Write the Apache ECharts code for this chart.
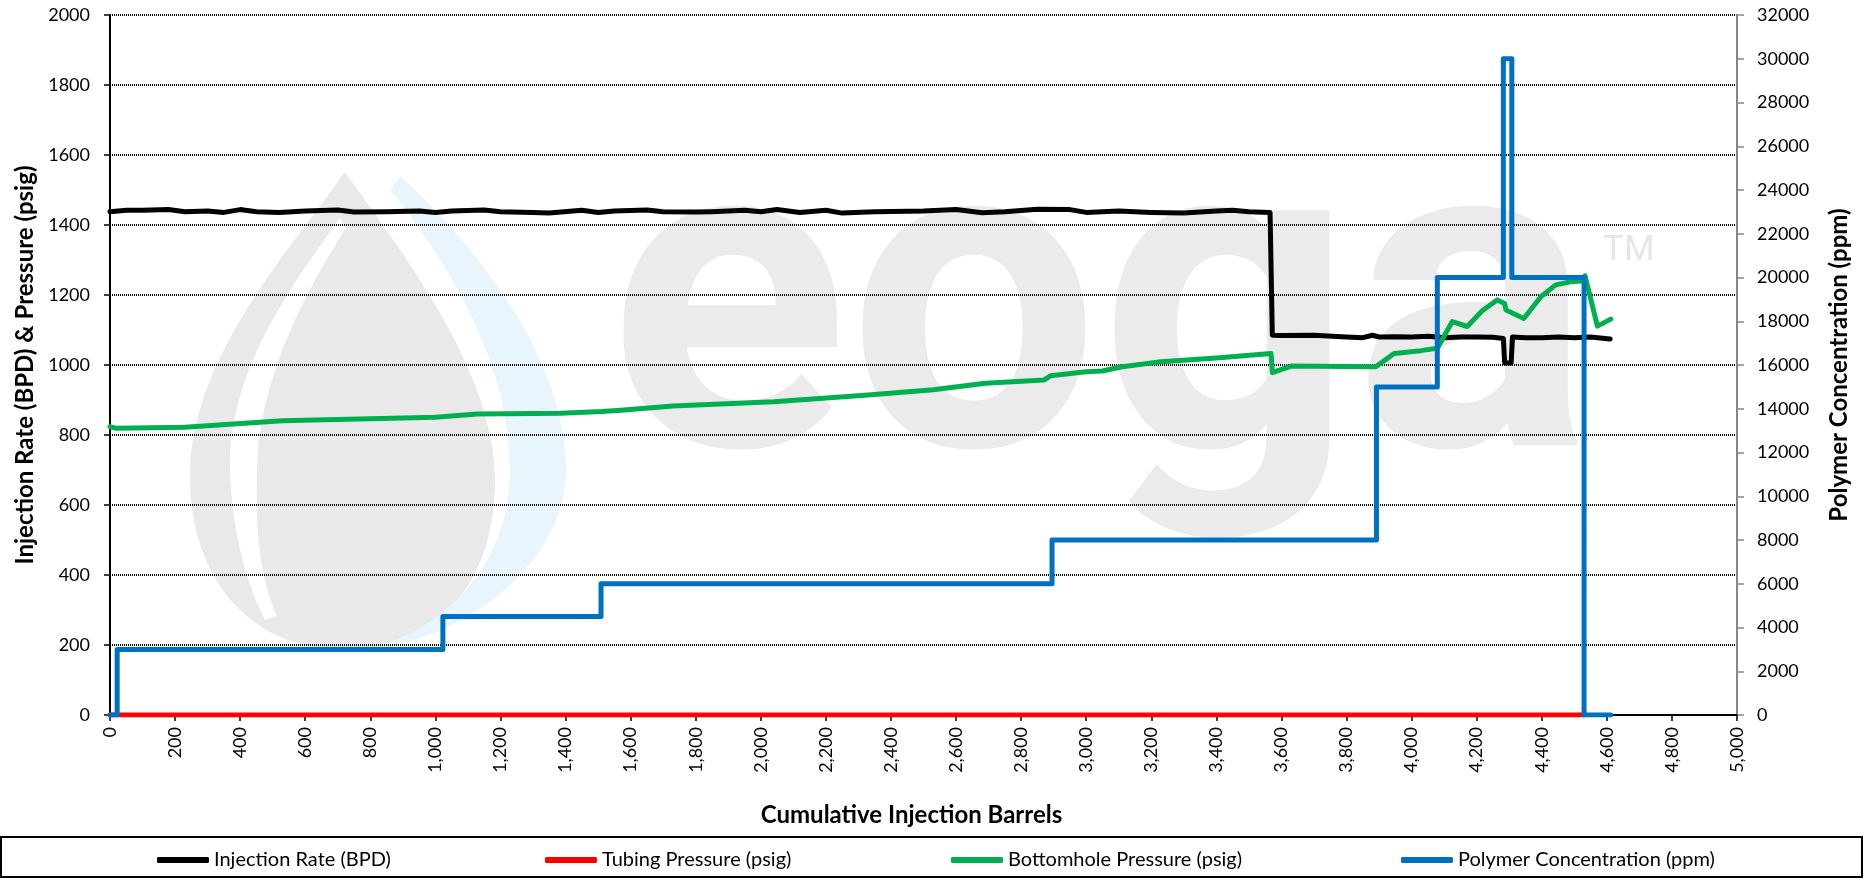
<!DOCTYPE html>
<html>
<head>
<meta charset="utf-8">
<script src="https://cdn.jsdelivr.net/npm/echarts@6/dist/echarts.min.js"></script>
<style>
  html, body { margin: 0; padding: 0; background: #fff; }
  #chart { width: 1865px; height: 884px; }
</style>
</head>
<body>
<div id="chart"></div>
<script>
// injection rate (BPD) vs cumulative barrels
const rateX = [0,50,100,180,230,300,350,400,450,520,600,700,750,850,950,1000,1050,1150,1200,1300,1350,1450,1500,1550,1650,1700,1800,1850,1950,2000,2050,2120,2200,2250,2350,2500,2600,2680,2750,2850,2950,3000,3100,3200,3300,3400,3450,3500,3565,3572,3600,3700,3800,3850,3880,3900,3950,4000,4050,4100,4150,4200,4250,4282,4286,4306,4310,4350,4400,4450,4500,4550,4610];
const rateBpd = [1438,1442,1442,1444,1438,1440,1436,1444,1438,1436,1440,1443,1437,1438,1440,1436,1440,1443,1438,1436,1434,1442,1436,1440,1443,1438,1437,1438,1442,1438,1444,1436,1442,1434,1438,1440,1444,1435,1438,1445,1444,1436,1440,1436,1434,1440,1442,1438,1436,1085,1084,1085,1080,1078,1085,1080,1081,1080,1082,1078,1080,1080,1079,1076,1006,1006,1080,1078,1078,1080,1078,1080,1074];

// tubing pressure (psig)
const tubingX = [0, 4530];
const tubingPsig = [0, 0];

// bottomhole pressure (psig)
const bhpX = [0,20,230,530,1000,1130,1385,1510,1570,1730,2040,2330,2530,2690,2870,2890,3000,3050,3110,3230,3400,3568,3572,3630,3890,3946,4028,4079,4125,4171,4217,4263,4286,4290,4345,4397,4443,4489,4530,4533,4571,4612];
const bhpPsig = [824,819,822,841,851,860,862,867,871,883,895,914,929,948,957,969,981,983,995,1009,1020,1033,978,997,995,1033,1041,1048,1124,1110,1155,1186,1176,1157,1133,1195,1229,1238,1241,1255,1111,1131];

// polymer concentration (ppm), value starting at each x
const polyX = [0,22,1023,1509,2895,3892,4079,4282,4308,4530,4612];
const polyPpm = [0,3000,4500,6000,8000,15000,20000,30000,20000,0,0];

const seriesNames = ['Injection Rate (BPD)', 'Tubing Pressure (psig)', 'Bottomhole Pressure (psig)', 'Polymer Concentration (ppm)'];
const seriesColors = ['#000000', '#ff0000', '#00b050', '#0070c0'];

const zip = (xs, ys) => xs.map((x, i) => [x, ys[i]]);
const FONT = 'Lato';

// watermark drop shapes
echarts.graphic.registerShape('wmOuter', echarts.graphic.extendPath(
  'M345 172 C290 250 188 360 190 480 C192 590 260 650 345 650 C430 650 495 590 495 480 C495 370 400 250 345 172 Z'));
echarts.graphic.registerShape('wmGap', echarts.graphic.extendPath(
  'M340 218 C280 300 228 380 230 470 C232 540 250 590 265 620 L277 616 C262 582 255 540 257 470 C258 385 300 300 346 228 Z'));
echarts.graphic.registerShape('wmBlue', echarts.graphic.extendPath(
  'M400 176 C480 250 566 360 566 470 C566 560 470 640 360 652 C450 630 510 560 510 470 C510 370 455 270 390 190 Z'));

const chart = echarts.init(document.getElementById('chart'));

function legendAt(i, left) {
  return {
    data: [seriesNames[i]],
    left: left,
    top: 845,
    itemWidth: 52,
    itemHeight: 6,
    icon: 'roundRect',
    selectedMode: false,
    textStyle: { fontFamily: FONT, fontSize: 20, color: '#000' }
  };
}

function lineSeries(i, data, extra) {
  return Object.assign({
    name: seriesNames[i],
    type: 'line',
    data: data,
    showSymbol: false,
    symbol: 'none',
    color: seriesColors[i],
    lineStyle: { color: seriesColors[i], width: 5, cap: 'round', join: 'round' }
  }, extra || {});
}

const titleStyle = { fontFamily: FONT, fontSize: 24, fontWeight: 'bold', color: '#000' };

chart.setOption({
  animation: false,
  textStyle: { fontFamily: FONT },
  grid: { left: 110, right: 128, top: 15, bottom: 169 },
  legend: [legendAt(0, 152), legendAt(1, 540), legendAt(2, 946), legendAt(3, 1396)],
  xAxis: {
    type: 'value',
    min: 0, max: 5000, interval: 200,
    name: 'Cumulative Injection Barrels',
    nameLocation: 'middle',
    nameGap: 88,
    nameTextStyle: Object.assign({ padding: [0, 24, 0, 0] }, titleStyle),
    axisLine: { lineStyle: { color: '#000', width: 2 } },
    axisTick: { show: true, length: 6, lineStyle: { color: '#000', width: 1.5 } },
    axisLabel: {
      rotate: 90, margin: 12, fontFamily: FONT, fontSize: 18, color: '#000',
      formatter: v => v.toLocaleString('en-US')
    },
    splitLine: { show: false }
  },
  yAxis: [{
    type: 'value',
    min: 0, max: 2000, interval: 200,
    name: 'Injection Rate (BPD) & Pressure (psig)',
    nameLocation: 'middle',
    nameRotate: 90,
    nameGap: 72,
    nameTextStyle: titleStyle,
    axisLine: { show: true, lineStyle: { color: '#000', width: 2 } },
    axisTick: { show: true, length: 6, lineStyle: { color: '#000', width: 1.5 } },
    axisLabel: { margin: 20, fontFamily: FONT, fontSize: 18, color: '#000', formatter: v => String(v) },
    splitLine: { show: true, lineStyle: { color: '#000', width: 2, type: [1, 1] } }
  }, {
    type: 'value',
    position: 'right',
    min: 0, max: 32000, interval: 2000,
    name: 'Polymer Concentration (ppm)',
    nameLocation: 'middle',
    nameRotate: 90,
    nameGap: 90,
    nameTextStyle: titleStyle,
    axisLine: { show: true, lineStyle: { color: '#868686', width: 2 } },
    axisTick: { show: true, length: 7, lineStyle: { color: '#868686', width: 1.5 } },
    axisLabel: { margin: 20, fontFamily: FONT, fontSize: 18, color: '#000', formatter: v => String(v) },
    splitLine: { show: false }
  }],
  series: [
    lineSeries(0, zip(rateX, rateBpd)),
    lineSeries(1, zip(tubingX, tubingPsig)),
    lineSeries(2, zip(bhpX, bhpPsig)),
    lineSeries(3, zip(polyX, polyPpm), { yAxisIndex: 1, step: 'end' })
  ],
  graphic: [
    { type: 'wmOuter', z: -10, silent: true, style: { fill: '#e9e9e9' } },
    { type: 'wmGap', z: -9, silent: true, style: { fill: '#ffffff' } },
    { type: 'wmBlue', z: -10, silent: true, style: { fill: '#e8f5fc' } },
    { type: 'text', z: -10, silent: true, x: 608, y: 334,
      style: { text: 'eoga', fontFamily: 'Roboto', fontWeight: 'bold', fontSize: 445, fill: '#ebebeb', verticalAlign: 'middle' } },
    { type: 'text', z: -10, silent: true, x: 1603, y: 251,
      style: { text: 'TM', fontFamily: 'Roboto', fontSize: 35, fill: '#e6e6e6', verticalAlign: 'middle' } },
    // legend box
    { type: 'rect', silent: true,
      shape: { x: 1, y: 837, width: 1861, height: 40 },
      style: { fill: 'none', stroke: '#000', lineWidth: 2 } }
  ]
});
</script>
</body>
</html>
